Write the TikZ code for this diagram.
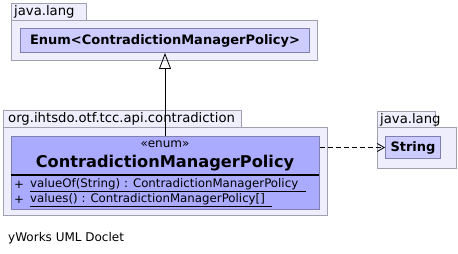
\documentclass[tikz,border=0pt]{standalone}
\usepackage{fontspec}
\setmainfont{DejaVu Sans}
\usetikzlibrary{arrows.meta, positioning}

\definecolor{pkgfill}{RGB}{238,238,252}
\definecolor{pkgline}{RGB}{160,160,176}
\definecolor{reffill}{RGB}{204,204,255}
\definecolor{refline}{RGB}{128,128,176}
\definecolor{clsfill}{RGB}{170,170,255}

\begin{document}
\begin{tikzpicture}[x=1pt,y=-1pt,
	box/.style={draw, anchor=north west, inner sep=0pt, line width=1pt},
	pkgbox/.style={box, draw=pkgline, fill=pkgfill},
	refbox/.style={box, draw=refline, fill=reffill, font=\fontsize{13}{15}\selectfont\bfseries},
	clsbox/.style={box, draw=refline, fill=clsfill},
	pkgname/.style={anchor=west, inner sep=0pt, font=\fontsize{13.2}{15}\selectfont},
	member/.style={anchor=west, inner sep=0pt, font=\fontsize{11.8}{14}\selectfont}]
		\useasboundingbox (0,0) rectangle (458,254);

		% java.lang (Enum)
		\node[pkgbox, minimum width=75,  minimum height=17	] (langtab)	at (11,3)	{};
		\node[pkgbox, minimum width=306, minimum height=40	] (langpkg)	at (11,20)	{};
		\node[pkgname							] 		at ([xshift=3]langtab.west)	{java.lang};
		\node[refbox, minimum width=289, minimum height=24	] (enum)	at (20,28)	{Enum<ContradictionManagerPolicy>};

		% org.ihtsdo.otf.tcc.api.contradiction
		\node[pkgbox, minimum width=238, minimum height=17	] (ctab)	at (3,110)	{};
		\node[pkgbox, minimum width=324, minimum height=88	] (cpkg)	at (3,127)	{};
		\node[pkgname							] 		at ([xshift=5]ctab.west)	{org.ihtsdo.otf.tcc.api.contradiction};
		\node[clsbox, minimum width=308, minimum height=73	] (cls)		at (11,136)	{};
		\node[inner sep=0pt, font=\fontsize{12}{14}\selectfont	] (stereo)	at (165,144.5)	{«enum»};
		\node[inner sep=0pt, font=\fontsize{16.2}{19}\selectfont\bfseries] (clsname) at (165,163) {ContradictionManagerPolicy};
		\coordinate (sepL) at (11,175);
		\coordinate (sepR) at (319,175);
		\draw[line width=2pt] (sepL) -- (sepR);
		\node[member] (plusA)	at (14,185)	{+};
		\node[member] (valueOf)	at (30,185)	{\underline{valueOf(String) : ContradictionManagerPolicy\ \ }};
		\node[member] (plusB)	at (14,200)	{+};
		\node[member] (values)	at (30,200)	{\underline{values() : ContradictionManagerPolicy[]\ \ }};

		% java.lang (String)
		\node[pkgbox, minimum width=58,  minimum height=16	] (stab)	at (377,111)	{};
		\node[pkgbox, minimum width=79,  minimum height=41	] (spkg)	at (377,127)	{};
		\node[pkgname							] 		at ([xshift=3]stab.west)	{java.lang};
		\node[refbox, minimum width=55,  minimum height=22	] (str)		at (385,136)	{String};

		% generalization and dependency
		\draw[-{Triangle[open, length=16pt, width=12pt]}, fill=white, line width=0.8pt]
			(cls.north -| enum.south) -- (enum.south);
		\draw[-{Straight Barb[length=7pt, width=8pt]}, dash pattern=on 5pt off 3pt, line width=0.8pt]
			(str.west -| cls.east) -- (str.west);

		\node[anchor=west, inner sep=0pt, font=\fontsize{12}{14}\selectfont] (doclet) at (8,238) {yWorks UML Doclet};
	\end{tikzpicture}
\end{document}
